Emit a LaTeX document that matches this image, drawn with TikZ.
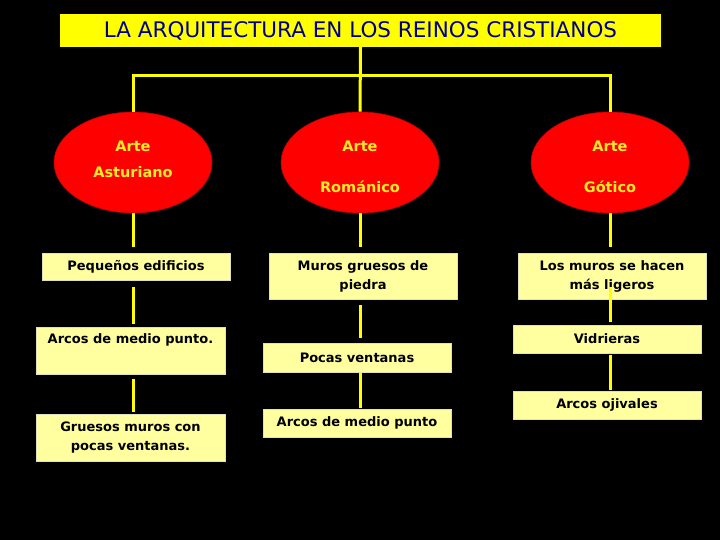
\documentclass[tikz,border=0pt]{standalone}
\usepackage{fontspec}
\setmainfont{DejaVu Sans}
\usetikzlibrary{shapes.geometric, positioning}
\definecolor{titleyellow}{RGB}{255,255,0}
\definecolor{boxyellow}{RGB}{255,255,160}
\definecolor{boxedge}{RGB}{225,225,185}
\definecolor{titleblue}{RGB}{0,0,140}
\definecolor{ovalred}{RGB}{255,0,0}
\definecolor{ovaltext}{RGB}{255,235,40}

\begin{document}
\begin{tikzpicture}[x=1pt,y=-1pt,
    titulo/.style={fill=titleyellow, text=titleblue, minimum width=601pt, minimum height=33pt, inner sep=0pt, font=\fontsize{21.5}{24}\selectfont},
    arte/.style={ellipse, draw=red!75!black, line width=0.6pt, fill=ovalred, text=ovaltext, minimum width=158pt, minimum height=101pt, inner sep=0pt, align=center, font=\bfseries\fontsize{14.5}{17}\selectfont},
    rasgo/.style={draw=boxedge, line width=0.8pt, fill=boxyellow, inner sep=0pt, align=center, font=\bfseries\fontsize{13}{19}\selectfont},
    link/.style={draw=titleyellow, line width=3pt}]

    % background
    \fill[black] (0,0) rectangle (720,540);

    % title and the three styles
    \node[titulo] (tit) at (360.5,30.5) {\raisebox{-1.5pt}{LA ARQUITECTURA EN LOS REINOS CRISTIANOS}};
    \node[arte] (ast) at (133,162.5) {Arte\\[9pt]Asturiano\rule[-6pt]{0pt}{0pt}};
    \node[arte] (rom) at (360,162.5) {\rule{0pt}{19pt}Arte\\[24pt]Románico};
    \node[arte] (got) at (610,162.5) {\rule{0pt}{19pt}Arte\\[24pt]Gótico};

    % features: asturiano
    \node[rasgo, minimum width=188pt, minimum height=27pt] (ast1) at (136,266.5) {Pequeños edificios};
    \node[rasgo, minimum width=189pt, minimum height=47pt] (ast2) at (130.5,350.5) {Arcos de medio punto.\\ \strut};
    \node[rasgo, minimum width=189pt, minimum height=47pt] (ast3) at (130.5,437.5) {Gruesos muros con\\pocas ventanas.};

    % features: romanico
    \node[rasgo, minimum width=188pt, minimum height=46pt] (rom1) at (363,276) {Muros gruesos de\\piedra};
    \node[rasgo, minimum width=188pt, minimum height=29pt] (rom2) at (357,357.5) {Pocas ventanas};
    \node[rasgo, minimum width=188pt, minimum height=28pt] (rom3) at (357,423) {Arcos de medio punto};

    % features: gotico
    \node[rasgo, minimum width=188pt, minimum height=46pt] (got1) at (612,276) {Los muros se hacen\\más ligeros};
    \node[rasgo, minimum width=188pt, minimum height=28pt] (got2) at (607,339) {Vidrieras};
    \node[rasgo, minimum width=188pt, minimum height=28pt] (got3) at (607,405) {Arcos ojivales};

    % connectors
    \coordinate (barL) at (133,76);
    \coordinate (barR) at (610,76);
    \draw[link] (tit.south) -- (rom.north);
    \draw[link] (ast.north) -- (barL) -- (barR) -- (got.north);

    \draw[link, shorten >=6pt] (ast.south) -- (ast.south |- ast1.north);
    \draw[link, shorten <=7pt, shorten >=3pt] (ast.south |- ast1.south) -- (ast.south |- ast2.north);
    \draw[link, shorten <=5pt, shorten >=2pt] (ast.south |- ast2.south) -- (ast.south |- ast3.north);

    \draw[link, shorten >=6pt] (rom.south) -- (rom.south |- rom1.north);
    \draw[link, shorten <=6pt, shorten >=5pt] (rom.south |- rom1.south) -- (rom.south |- rom2.north);
    \draw[link, shorten <=1pt, shorten >=1pt] (rom.south |- rom2.south) -- (rom.south |- rom3.north);

    \draw[link, shorten >=6pt] (got.south) -- (got.south |- got1.north);
    \draw[link, shorten <=-12pt, shorten >=3pt] (got.south |- got1.south) -- (got.south |- got2.north);
    \draw[link, shorten <=2pt, shorten >=1pt] (got.south |- got2.south) -- (got.south |- got3.north);
\end{tikzpicture}
\end{document}
